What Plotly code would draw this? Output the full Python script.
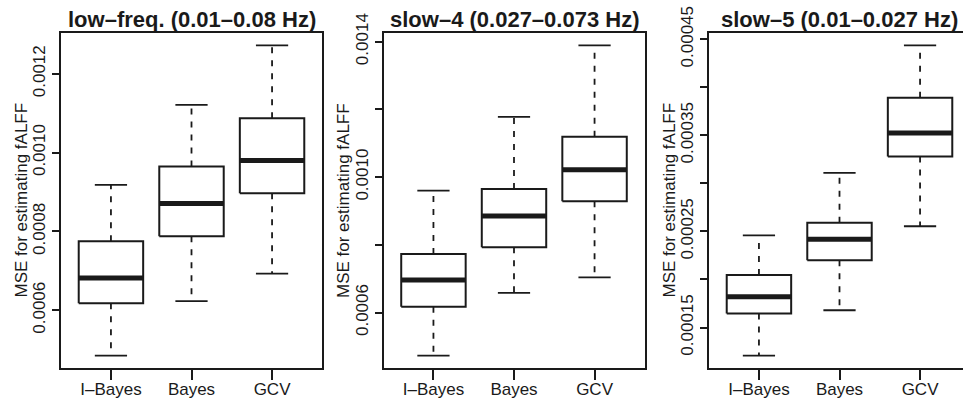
import plotly.graph_objects as go

W, H = 963, 401

methods = ["I–Bayes", "Bayes", "GCV"]
titles = ["low–freq. (0.01–0.08 Hz)", "slow–4 (0.027–0.073 Hz)", "slow–5 (0.01–0.027 Hz)"]
ytitle = "MSE for estimating fALFF"

# low-freq panel
lf_lower = [0.000485, 0.000623, 0.000693]
lf_q1 = [0.000618, 0.000788, 0.000897]
lf_med = [0.000682, 0.000871, 0.000980]
lf_q3 = [0.000775, 0.000965, 0.001087]
lf_upper = [0.000918, 0.001121, 0.001272]

# slow-4 panel
s4_lower = [0.000473, 0.000658, 0.000704]
s4_q1 = [0.000617, 0.000793, 0.000929]
s4_med = [0.000696, 0.000885, 0.001022]
s4_q3 = [0.000773, 0.000965, 0.001119]
s4_upper = [0.000960, 0.001178, 0.001389]

# slow-5 panel
s5_lower = [0.0001208, 0.000168, 0.0002554]
s5_q1 = [0.0001646, 0.000220, 0.000328]
s5_med = [0.000182, 0.0002419, 0.0003525]
s5_q3 = [0.0002046, 0.000259, 0.000389]
s5_upper = [0.000246, 0.000311, 0.0004436]

# y tick values and labels
lf_ticks = [0.0006, 0.0008, 0.0010, 0.0012]
lf_labels = ["0.0006", "0.0008", "0.0010", "0.0012"]
s4_ticks = [0.0006, 0.0008, 0.0010, 0.0012, 0.0014]
s4_labels = ["0.0006", "", "0.0010", "", "0.0014"]
s5_ticks = [0.00015, 0.00020, 0.00025, 0.00030, 0.00035, 0.00040, 0.00045]
s5_labels = ["0.00015", "", "0.00025", "", "0.00035", "", "0.00045"]

panels = [
    (lf_lower, lf_q1, lf_med, lf_q3, lf_upper, lf_ticks, lf_labels),
    (s4_lower, s4_q1, s4_med, s4_q3, s4_upper, s4_ticks, s4_labels),
    (s5_lower, s5_q1, s5_med, s5_q3, s5_upper, s5_ticks, s5_labels),
]

FONT = "Liberation Sans, Arial, Helvetica, sans-serif"
INK = "#1a1a1a"
BOXW = 0.4   # half box width
CAPW = 0.2   # half staple width

# pixel layout of plot regions
x_left = [61, 383.5, 709]
plot_w = 261
y_top, y_bot = 33, 368

fig = go.Figure()
n = len(methods)
xr = [0.5 - 0.04 * n, n + 0.5 + 0.04 * n]
px_per_unit = plot_w / (xr[1] - xr[0])

for k, (lo, q1, md, q3, up, tv, tt) in enumerate(panels):
    xa = "x" if k == 0 else f"x{k+1}"
    ya = "y" if k == 0 else f"y{k+1}"
    pos = list(range(1, n + 1))
    bx, by, mx, my, wx, wy, cx, cy = [], [], [], [], [], [], [], []
    for i in range(n):
        p = pos[i]
        bx += [p - BOXW, p + BOXW, p + BOXW, p - BOXW, p - BOXW, None]
        by += [q1[i], q1[i], q3[i], q3[i], q1[i], None]
        mx += [p - BOXW, p + BOXW, None]
        my += [md[i], md[i], None]
        wx += [p, p, None, p, p, None]
        wy += [q3[i], up[i], None, q1[i], lo[i], None]
        cx += [p - CAPW, p + CAPW, None, p - CAPW, p + CAPW, None]
        cy += [up[i], up[i], None, lo[i], lo[i], None]
    common = dict(xaxis=xa, yaxis=ya, mode="lines", hoverinfo="skip", showlegend=False)
    fig.add_trace(go.Scatter(x=wx, y=wy, line=dict(color=INK, width=1.8, dash="6px,7px"), **common))
    fig.add_trace(go.Scatter(x=cx, y=cy, line=dict(color=INK, width=1.8), **common))
    fig.add_trace(go.Scatter(x=bx, y=by, line=dict(color=INK, width=2), fill="toself",
                             fillcolor="white", **common))
    fig.add_trace(go.Scatter(x=mx, y=my, line=dict(color=INK, width=5), **common))

    dmin, dmax = min(lo), max(up)
    pad = 0.04 * (dmax - dmin)
    yr = [dmin - pad, dmax + pad]

    x0 = x_left[k] / W
    x1 = min((x_left[k] + plot_w) / W, 1.0)
    this_xr = list(xr)
    if x_left[k] + plot_w > W:
        this_xr[1] = xr[0] + (W - x_left[k]) / px_per_unit
    dom_y = [1 - y_bot / H, 1 - y_top / H]

    xkey = "xaxis" if k == 0 else f"xaxis{k+1}"
    ykey = "yaxis" if k == 0 else f"yaxis{k+1}"
    fig.update_layout({
        xkey: dict(domain=[x0, x1], range=this_xr, anchor=ya, tickvals=pos, ticktext=methods,
                   ticks="outside", ticklen=10, tickwidth=2, tickcolor=INK,
                   ticklabelstandoff=-5,
                   showline=True, linewidth=2, linecolor=INK, mirror=True,
                   showgrid=False, zeroline=False, fixedrange=True, automargin=False,
                   tickfont=dict(family=FONT, size=17, color=INK)),
        ykey: dict(domain=dom_y, range=yr, anchor=xa, tickvals=tv, ticktext=tt,
                   ticks="outside", ticklen=7, tickwidth=2, tickcolor=INK, tickangle=-90,
                   showline=True, linewidth=2, linecolor=INK,
                   mirror=(x_left[k] + plot_w <= W),
                   showgrid=False, zeroline=False, fixedrange=True, automargin=False,
                   tickfont=dict(family=FONT, size=17, color=INK)),
    })

    cx_center = (x_left[k] + plot_w / 2) / W
    fig.add_annotation(text=f"<b>{titles[k]}</b>", xref="paper", yref="paper",
                       x=cx_center, y=1 - 19 / H, xanchor="center", yanchor="middle",
                       showarrow=False, font=dict(family=FONT, size=22, color=INK))
    fig.add_annotation(text=ytitle, xref="paper", yref="paper",
                       x=(x_left[k] - 40) / W, y=1 - ((y_top + y_bot) / 2) / H,
                       xanchor="center", yanchor="middle", textangle=-90,
                       showarrow=False, font=dict(family=FONT, size=17, color=INK))

fig.update_layout(width=W, height=H, margin=dict(l=0, r=0, t=0, b=0),
                  paper_bgcolor="white", plot_bgcolor="white")

fig.write_html("out.html")
